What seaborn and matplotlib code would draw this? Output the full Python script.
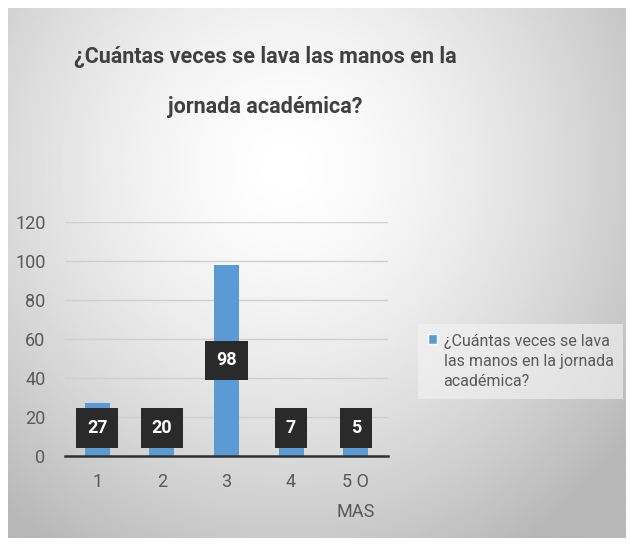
import numpy as np
import pandas as pd
import matplotlib.pyplot as plt
import seaborn as sns
from matplotlib import font_manager

sns.set_theme(style="white")

names = {f.name for f in font_manager.fontManager.ttflist}
narrow = 'Liberation Sans Narrow' if 'Liberation Sans Narrow' in names else 'Roboto'
plt.rcParams['font.family'] = [narrow, 'DejaVu Sans']

# data
categories = ['1', '2', '3', '4', '5 O\nMAS']
values = [27, 20, 98, 7, 5]
series_name = '¿Cuántas veces se lava\nlas manos en la jornada\nacadémica?'
title = '¿Cuántas veces se lava las manos en la\njornada académica?'

df = pd.DataFrame({'cat': categories, 'val': values})

fig = plt.figure(figsize=(6.31, 5.44), dpi=100)

# gradient background panel
bg = fig.add_axes([8 / 631, 6 / 544, 618 / 631, 530 / 544])
yy, xx = np.mgrid[0:1:300j, 0:1:300j]
r = np.sqrt(((xx - 0.45) / 0.7) ** 2 + ((yy - 0.3) / 0.85) ** 2)
shade = 1.0 - 0.28 * np.clip(r, 0, 1) ** 1.5
bg.imshow(shade, cmap='gray', vmin=0, vmax=1, aspect='auto', extent=[0, 1, 1, 0])
bg.set_axis_off()

ax = fig.add_axes([65 / 631, 1 - 456 / 544, 323 / 631, 234 / 544])
ax.patch.set_alpha(0)
sns.barplot(data=df, x='cat', y='val', color='#5B9BD5', width=0.39,
            saturation=1, linewidth=0, edgecolor='none', ax=ax)

ax.set_ylim(0, 120)
ax.set_xlim(-0.5, 4.5)
ax.set_yticks(range(0, 121, 20))
for y in range(20, 121, 20):
    ax.axhline(y, color='#cfcfcf', lw=1, zorder=0)
for s in ['top', 'right', 'left']:
    ax.spines[s].set_visible(False)
ax.spines['bottom'].set_color('#303030')
ax.spines['bottom'].set_linewidth(1.8)
ax.set_xlabel('')
ax.set_ylabel('')
ax.tick_params(axis='y', length=0, labelsize=13, colors='#595959', pad=14)
ax.tick_params(axis='x', which='major', length=0, labelsize=13, colors='#595959', pad=12)
for t in ax.get_xticklabels():
    t.set_linespacing(1.9)
ax.set_xticks(np.arange(-0.5, 5, 1), minor=True)
ax.tick_params(axis='x', which='minor', length=5, width=1.8, color='#303030', direction='out')

# data labels
for i, v in enumerate(values):
    ax.text(i, max(v / 2, 14.5), str(v), ha='center', va='center', color='white',
            fontsize=13, fontweight='bold',
            bbox=dict(boxstyle='square,pad=0.6', fc='#2a2a2a', ec='none'))

fig.text(265 / 631, 1 - 82 / 544, title, ha='center', va='center', fontsize=15.5,
         fontweight='bold', color='#404040', linespacing=2.7)

leg_handle = plt.Rectangle((0, 0), 1, 1, fc='#5B9BD5')
leg = fig.legend([leg_handle], [series_name], loc='upper left',
                 bbox_to_anchor=(410 / 631, 1 - 316 / 544), frameon=True,
                 fontsize=11.5, handlelength=0.6, handleheight=0.6, handletextpad=0.4,
                 labelcolor='#595959', borderpad=0.6, fancybox=False)
leg.get_frame().set_facecolor('#f4f4f4')
leg.get_frame().set_edgecolor('none')
leg.get_frame().set_alpha(0.6)
for t in leg.get_texts():
    t.set_linespacing(1.45)
# put the marker on the first text line, as in the source chart
h = leg.legend_handles[0]
h.set_y(h.get_y() + 16.5)

fig.savefig('out.png', dpi=100)
